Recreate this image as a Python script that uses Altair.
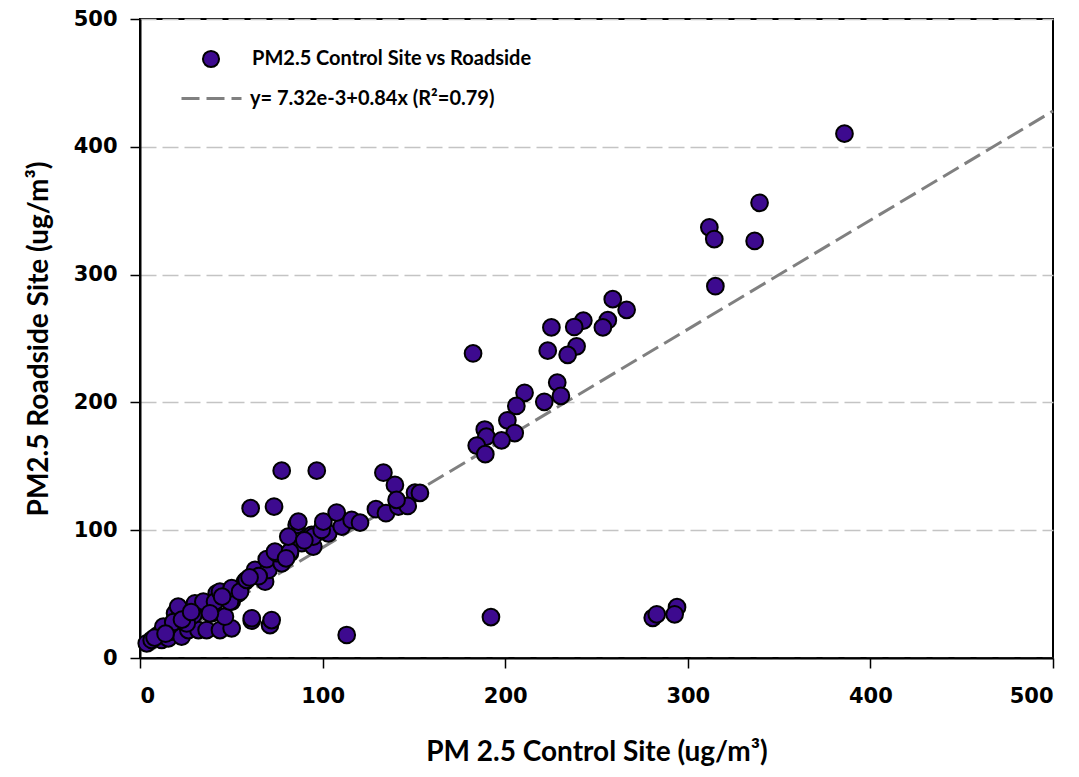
import altair as alt
import pandas as pd

# Control site PM2.5 (x) and roadside PM2.5 (y)
control = [
    3.7, 6.4, 10, 11.9, 15.5, 17.4, 22.8, 26.5, 32, 36.5, 43.8, 50.2, 61.2, 71.2,
    19.2, 20.9, 29.2, 30.1, 39.2, 36.5, 42, 50.2, 46.5, 53.8, 57.5, 12.8, 18.2, 25.6,
    34.7, 41.1, 49.3, 43.8, 50.2, 54.8, 58.4, 68.5, 63, 70.3, 69.4, 77.6, 74.8, 82.1,
    88.6, 94, 85.8, 100.4, 73.9, 82.1, 94.9, 81.2, 94.9, 103.1, 110.5, 99.5, 86.7,
    100.4, 107.7, 115.9, 120.5, 60.6, 73.4, 77.6, 96.8, 133.3, 139.6, 150.6, 129.2,
    134.7, 141.5, 146.6, 140.5, 113.2, 38.3, 72.1, 61.2, 65, 23, 28, 8, 14, 45, 60,
    80, 90, 153.3,
    385.8, 339.3, 311.8, 314.5, 336.6, 315.1, 258.9, 266.5, 256.2, 253.5, 242.8,
    237.8, 225.3, 239.1, 234.2, 223.3, 182.4, 228.5, 230.5, 210.6, 221.4, 206.1,
    201.2, 205.2, 188.8, 189.7, 184.4, 198, 189.1, 192.2, 280.8, 283, 294.1, 292.8,
]
roadside = [
    11.5, 14.1, 18, 14.1, 15.4, 20.6, 16.7, 21.9, 21.9, 21.9, 21.9, 23.2, 29.2, 25.8,
    35, 40.2, 33.7, 42.8, 35, 41.5, 50.6, 44.1, 32.3, 50.6, 59.7, 24.5, 28, 27,
    44.1, 44.1, 44.1, 51.9, 54.6, 51.9, 61.1, 59.7, 68.9, 68.9, 77.3, 74.1, 82, 82,
    89.8, 96.3, 104.1, 104.1, 83.2, 83.2, 87.2, 95, 95, 97.6, 102.8, 100.2, 106.7,
    106.7, 113.8, 108, 105.9, 117.2, 118.5, 146.6, 146.6, 145, 135.4, 129.4, 116.4,
    113.3, 118.5, 119, 123.7, 18, 35, 29.7, 31.1, 64, 30, 36, 16, 19, 48, 63,
    78, 92, 129.2,
    410.3, 356.2, 337, 327.8, 326.3, 290.9, 280.8, 272.4, 264.3, 258.7, 264,
    259, 258.7, 243.9, 237.2, 240.5, 238.3, 215.5, 205.1, 207.5, 200.5, 197.2,
    186, 176, 178.8, 173.2, 166.2, 170.3, 159.5, 32, 31.4, 34.2, 39.8, 34.2,
]

# Fitted line endpoints as drawn
fit_x = [5, 500]
fit_y = [5.3, 428]

axis_ticks = [0, 100, 200, 300, 400, 500]
series_name = "PM2.5 Control Site vs Roadside"
fit_name = "y= 7.32e-3+0.84x (R\u00b2=0.79)"

pts = pd.DataFrame({"x": control, "y": roadside, "s": series_name})
fit = pd.DataFrame({"x": fit_x, "y": fit_y, "s": fit_name})

xscale = alt.Scale(domain=[0, 500], nice=False, zero=False)
yscale = alt.Scale(domain=[0, 500], nice=False, zero=False)

xaxis = alt.Axis(
    title="PM 2.5 Control Site (ug/m\u00b3)", values=axis_ticks, grid=False,
    labelFont="DejaVu Sans", labelFontWeight="bold", labelFontSize=21, labelColor="black",
    labelPadding=17, tickSize=10, tickColor="black", tickWidth=1.5,
    domainColor="black", domainWidth=2,
    titleFont="Lato", titleFontWeight="bold", titleFontSize=28, titleColor="black",
    titlePadding=32,
)
yaxis = alt.Axis(
    title="PM2.5 Roadside Site (ug/m\u00b3)", values=axis_ticks, grid=True,
    gridDash=[16, 6], gridColor="#c4c4c4", gridWidth=1.5,
    labelFont="DejaVu Sans", labelFontWeight="bold", labelFontSize=21, labelColor="black",
    labelPadding=13, tickSize=10, tickColor="black", tickWidth=1.5,
    domainColor="black", domainWidth=2,
    titleFont="Lato", titleFontWeight="bold", titleFontSize=28, titleColor="black",
    titlePadding=20,
)

line = alt.Chart(fit).mark_line(color="#808080", strokeWidth=3).encode(
    x=alt.X("x:Q", scale=xscale, axis=xaxis),
    y=alt.Y("y:Q", scale=yscale, axis=yaxis),
    strokeDash=alt.StrokeDash(
        "s:N",
        scale=alt.Scale(domain=[fit_name], range=[[18, 7]]),
        legend=alt.Legend(
            title=None, orient="none", legendX=40, legendY=48,
            symbolType="stroke", symbolSize=3600, symbolStrokeWidth=3,
            symbolStrokeColor="#808080", labelOffset=7, labelLimit=500,
            labelFont="Lato", labelFontWeight="bold", labelFontSize=20,
            labelColor="black",
        ),
    ),
)

points = alt.Chart(pts).mark_point(
    shape="circle", stroke="black", strokeWidth=2, fillOpacity=1, opacity=1, size=280
).encode(
    x="x:Q",
    y="y:Q",
    fill=alt.Fill(
        "s:N",
        scale=alt.Scale(domain=[series_name], range=["#3d0a8f"]),
        legend=alt.Legend(
            title=None, orient="none", legendX=61, legendY=30,
            symbolType="circle", symbolSize=260, symbolStrokeWidth=2,
            symbolStrokeColor="black", labelOffset=31, labelLimit=500,
            labelFont="Lato", labelFontWeight="bold", labelFontSize=20,
            labelColor="black",
        ),
    ),
)

chart = (
    alt.layer(line, points)
    .resolve_legend(fill="independent", strokeDash="independent")
    .properties(
        width=913, height=639,
        autosize=alt.AutoSizeParams(type="none"),
        padding={"left": 140, "top": 19, "right": 26, "bottom": 119},
        background="white",
    )
    .configure_view(stroke="black", strokeWidth=2)
)

chart.save("out.html", embed_options={"renderer": "svg", "actions": False})
